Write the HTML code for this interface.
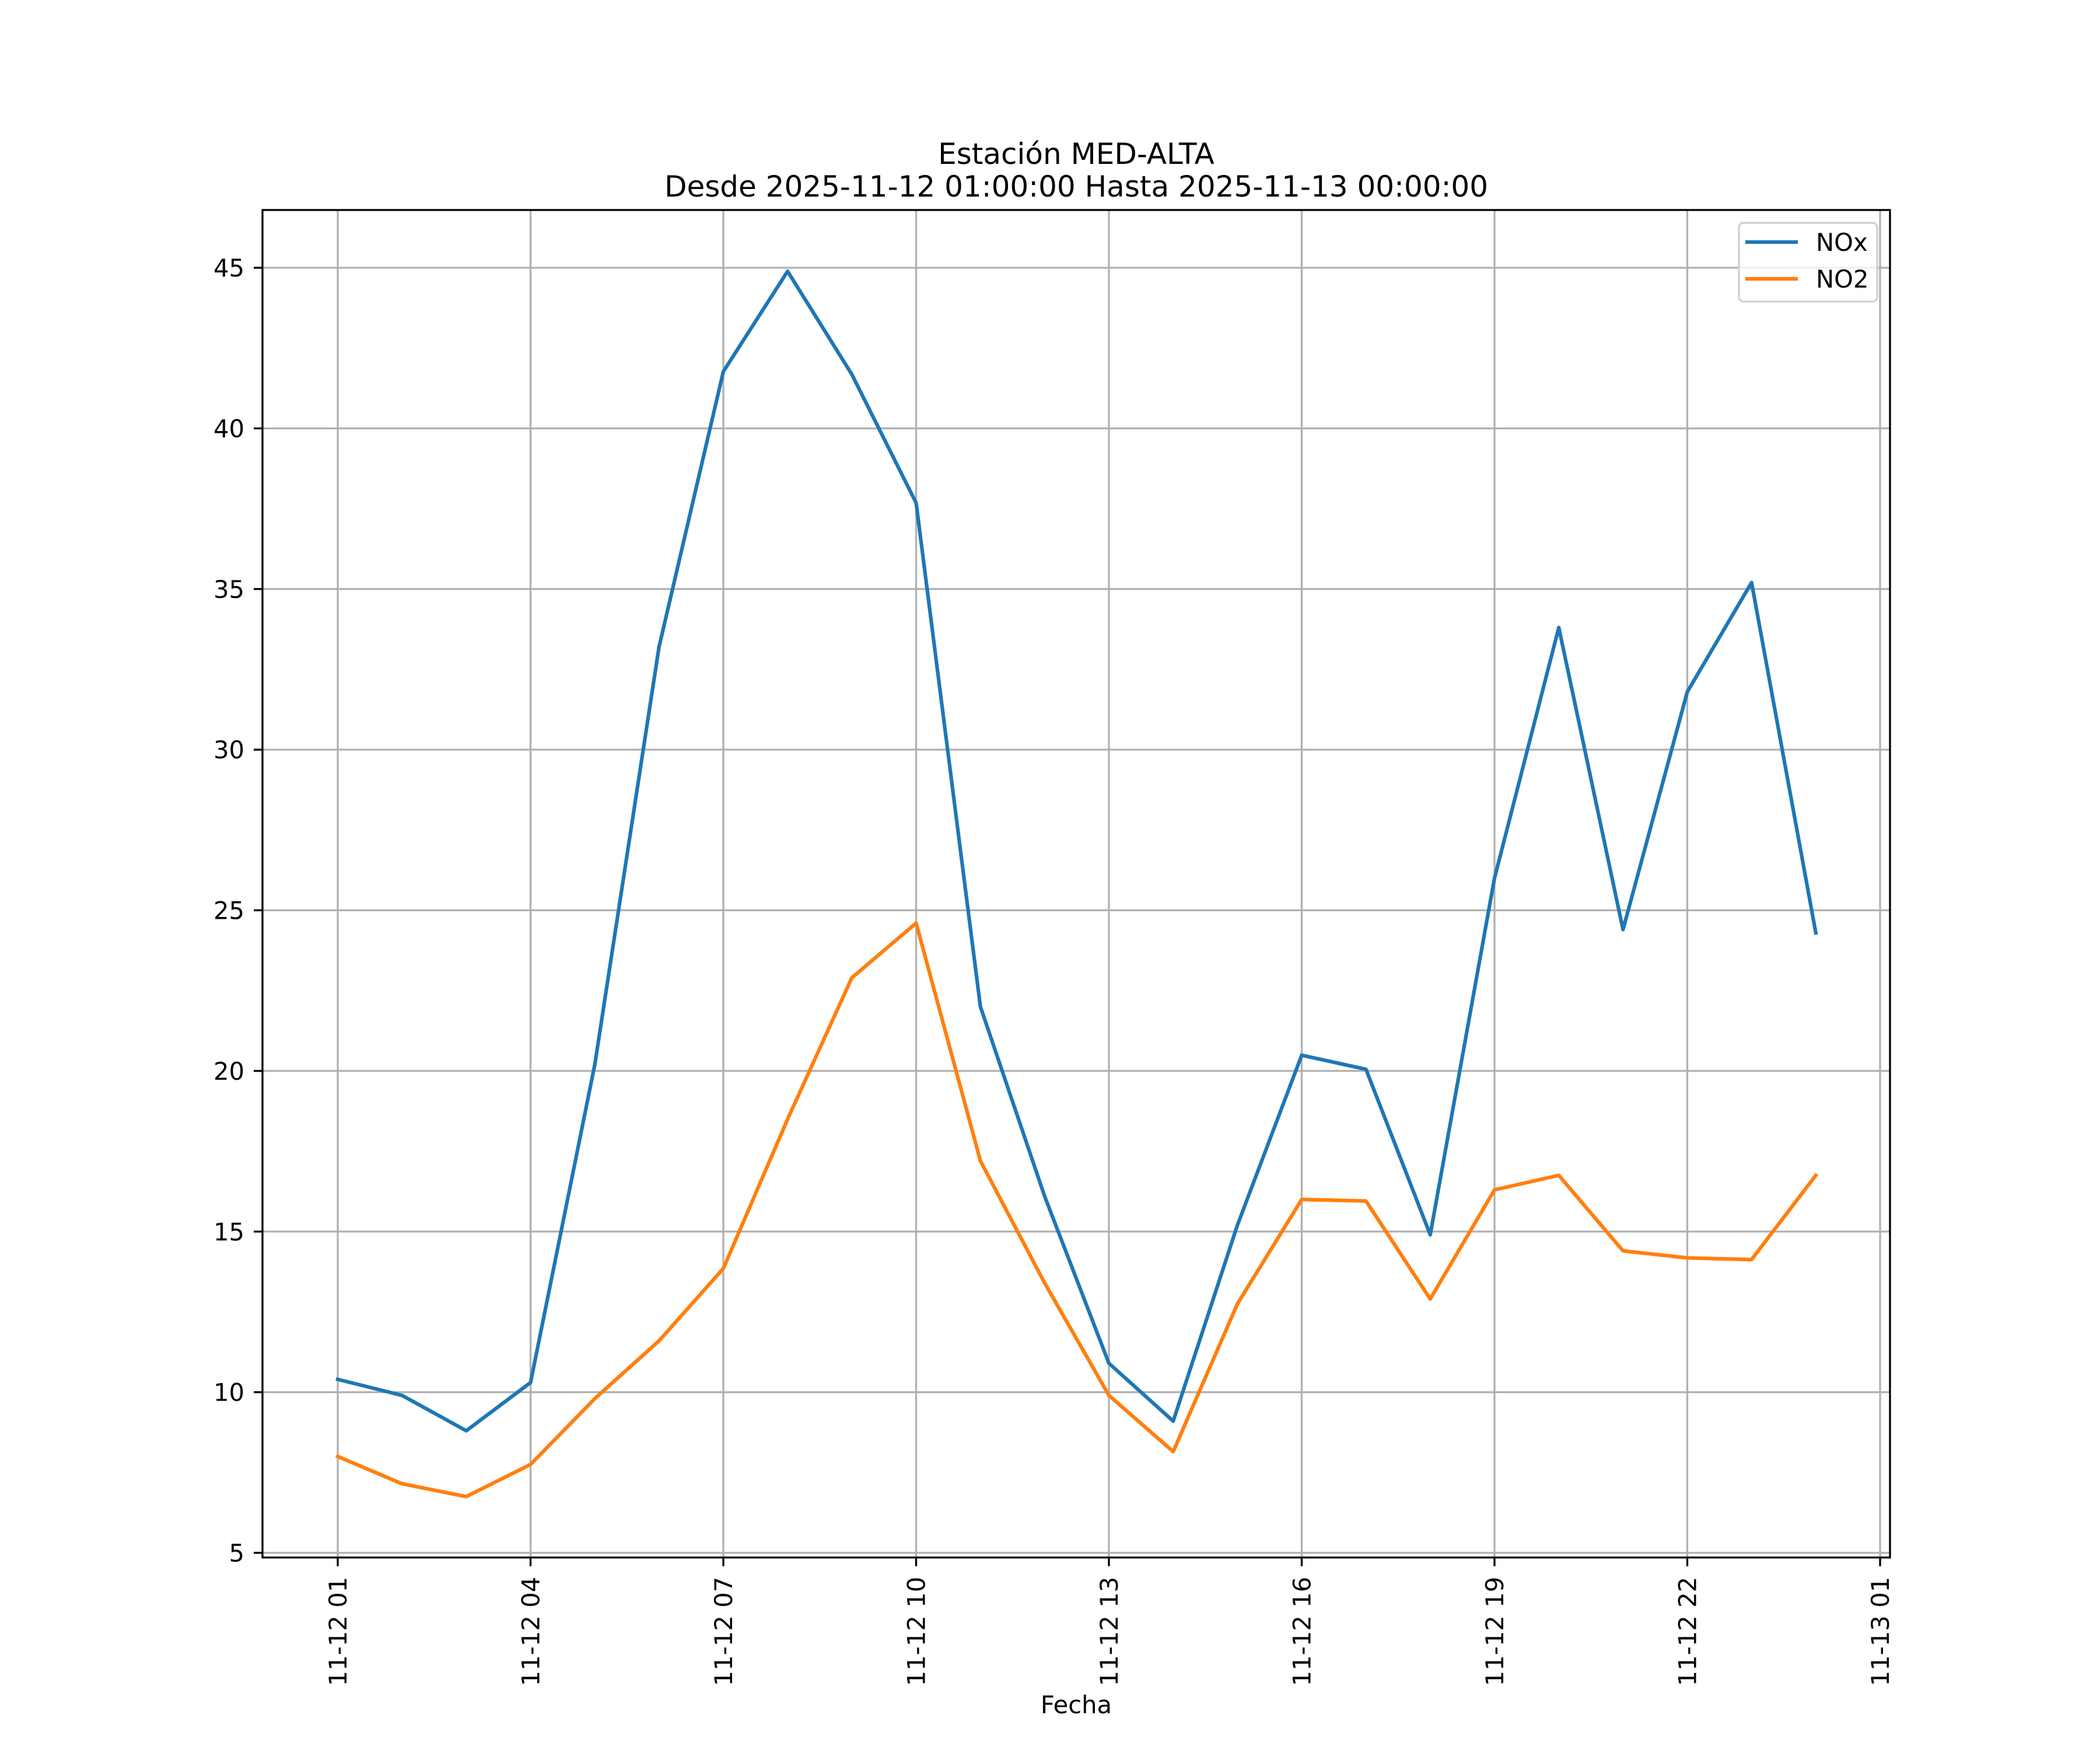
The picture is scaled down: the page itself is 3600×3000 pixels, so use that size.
<!DOCTYPE html>
<html><head><meta charset="utf-8"><style>
html,body{margin:0;padding:0;background:#fff;}
svg{display:block;font-family:"DejaVu Sans","Liberation Sans",sans-serif;}
</style></head><body>
<svg id="chart" width="3600" height="3000" viewBox="0 0 3600 3000" xmlns="http://www.w3.org/2000/svg">
<rect width="3600" height="3000" fill="#fff"/>
<text x="1845" y="281" font-size="50" text-anchor="middle">Estación MED-ALTA</text>
<text x="1845" y="337" font-size="50" text-anchor="middle">Desde 2025-11-12 01:00:00 Hasta 2025-11-13 00:00:00</text>
<g id="grid"></g>
<g id="series"></g>
<rect x="450" y="360" width="2790" height="2310" fill="none" stroke="#000" stroke-width="3.3"/>
<g id="ticks"></g>
<text x="1845" y="2937" font-size="41.7" text-anchor="middle">Fecha</text>
<g>
<rect x="2981" y="382" width="237" height="135" rx="8" fill="#fff" fill-opacity="0.8" stroke="#d0d0d0" stroke-width="3.3"/>
<line x1="2992" y1="415" x2="3082" y2="415" stroke="#1f77b4" stroke-width="6.25"/>
<text x="3113" y="430" font-size="41.7">NOx</text>
<line x1="2992" y1="478" x2="3082" y2="478" stroke="#ff7f0e" stroke-width="6.25"/>
<text x="3113" y="493" font-size="41.7">NO2</text>
</g>
</svg>
<script>
const hours = [1,2,3,4,5,6,7,8,9,10,11,12,13,14,15,16,17,18,19,20,21,22,23,24];
const noxValues = [10.4,9.9,8.8,10.3,20.2,33.2,41.77,44.89,41.68,37.68,22.0,16.1,10.9,9.1,15.2,20.49,20.05,14.9,26.0,33.8,24.4,31.8,35.2,24.3];
const no2Values = [8.0,7.15,6.75,7.75,9.8,11.6,13.85,18.5,22.9,24.6,17.2,13.4,9.9,8.15,12.75,16.0,15.95,12.9,16.3,16.75,14.4,14.18,14.13,16.75];
const yTicks = [5,10,15,20,25,30,35,40,45];
const xTickHours = [1,4,7,10,13,16,19,22,25];
const xTickLabels = ["11-12 01","11-12 04","11-12 07","11-12 10","11-12 13","11-12 16","11-12 19","11-12 22","11-13 01"];

const NS = "http://www.w3.org/2000/svg";
function xs(h){ return 579 + (h - 1) * (3223 - 579) / 24; }
function ys(v){ return 459 + (45 - v) * (2662 - 459) / 40; }
function mk(tag, attrs, parent){
  const e = document.createElementNS(NS, tag);
  for (const k in attrs) e.setAttribute(k, attrs[k]);
  parent.appendChild(e); return e;
}
const grid = document.getElementById('grid');
const ticks = document.getElementById('ticks');
const series = document.getElementById('series');

yTicks.forEach(v => {
  const y = ys(v);
  const g = mk('line', {x1:450, x2:3240, y1:y, y2:y, stroke:'#b0b0b0', 'stroke-width':3.3}, grid);
  
  
  const t = mk('line', {x1:435, x2:450, y1:y, y2:y, stroke:'#000', 'stroke-width':3.3}, ticks);
  
  
  const l = mk('text', {x:419, y:y + 15, 'font-size':41.7, 'text-anchor':'end'}, ticks);
  
  
  l.textContent = String(v);
});
xTickHours.forEach((h, i) => {
  const x = xs(h);
  const g = mk('line', {x1:x, x2:x, y1:360, y2:2670, stroke:'#b0b0b0', 'stroke-width':3.3}, grid);
  
  
  const t = mk('line', {x1:x, x2:x, y1:2670, y2:2685, stroke:'#000', 'stroke-width':3.3}, ticks);
  
  
  const l = mk('text', {x:0, y:0, 'font-size':41.7, 'text-anchor':'end', transform:'translate(' + (x + 15) + ',2703) rotate(-90)'}, ticks);
  
  
  l.textContent = xTickLabels[i];
});
function drawLine(vals, color, name){
  const pts = vals.map((v, i) => xs(hours[i]).toFixed(1) + ',' + ys(v).toFixed(1)).join(' ');
  const p = mk('polyline', {points:pts, fill:'none', stroke:color, 'stroke-width':6.25, 'stroke-linejoin':'round', 'stroke-linecap':'square'}, series);
  
  
}
drawLine(noxValues, '#1f77b4', 'nox-line');
drawLine(no2Values, '#ff7f0e', 'no2-line');
</script>
</body></html>
